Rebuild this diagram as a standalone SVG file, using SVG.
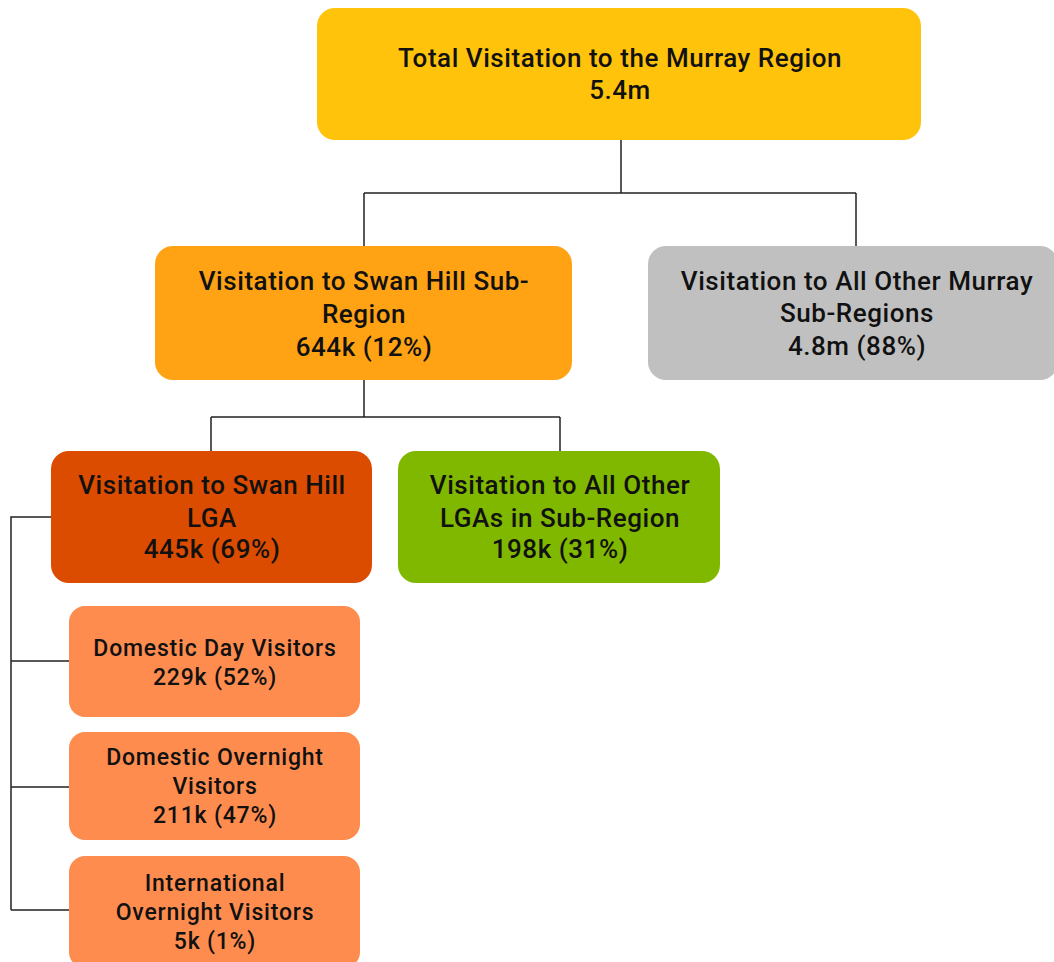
<svg xmlns="http://www.w3.org/2000/svg" width="1054" height="962" viewBox="0 0 1054 962">
<style>
.t{font-family:Roboto,"Liberation Sans",sans-serif;font-weight:500;fill:#111;text-anchor:middle;dominant-baseline:central}
.b{font-size:26px;letter-spacing:0.55px}
.s{font-size:23px;letter-spacing:0.8px}
.c{fill:none;stroke:#222;stroke-width:1.5}
</style>
<rect width="1054" height="962" fill="#fff"/>
<g id="connectors">
<path class="c" d="M621 140V193M364 193H856M364 193V246M856 193V246"/>
<path class="c" d="M364 380V417M211 417H560M211 417V451M560 417V451"/>
<path class="c" d="M51 517H11V910M11 661H69M11 787H69M11 910H69"/>
</g>
<g id="n-total">
<rect x="317" y="8" width="604" height="132" rx="18" fill="#FFC30B"/>
<text class="t b" x="620" y="58">Total Visitation to the Murray Region</text>
<text class="t b" x="620" y="90">5.4m</text>
</g>
<g id="n-swanhill-sub">
<rect x="155" y="246" width="417" height="134" rx="18" fill="#FFA214"/>
<text class="t b" x="364" y="281">Visitation to Swan Hill Sub-</text>
<text class="t b" x="364" y="314">Region</text>
<text class="t b" x="364" y="347">644k (12%)</text>
</g>
<g id="n-other-sub">
<rect x="648" y="246" width="410" height="134" rx="18" fill="#C0C0C0"/>
<text class="t b" x="857" y="281">Visitation to All Other Murray</text>
<text class="t b" x="857" y="313">Sub-Regions</text>
<text class="t b" x="857" y="346">4.8m (88%)</text>
</g>
<g id="n-swanhill-lga">
<rect x="51" y="451" width="321" height="132" rx="18" fill="#DC4C00"/>
<text class="t b" x="212" y="485">Visitation to Swan Hill</text>
<text class="t b" x="212" y="518">LGA</text>
<text class="t b" x="212" y="549">445k (69%)</text>
</g>
<g id="n-other-lga">
<rect x="398" y="451" width="322" height="132" rx="18" fill="#80B800"/>
<text class="t b" x="560" y="485">Visitation to All Other</text>
<text class="t b" x="560" y="518">LGAs in Sub-Region</text>
<text class="t b" x="560" y="549">198k (31%)</text>
</g>
<g id="n-day">
<rect x="69" y="606" width="291" height="111" rx="16" fill="#FF8C4F"/>
<text class="t s" x="215" y="648">Domestic Day Visitors</text>
<text class="t s" x="215" y="677">229k (52%)</text>
</g>
<g id="n-overnight">
<rect x="69" y="732" width="291" height="108" rx="16" fill="#FF8C4F"/>
<text class="t s" x="215" y="757">Domestic Overnight</text>
<text class="t s" x="215" y="786">Visitors</text>
<text class="t s" x="215" y="815">211k (47%)</text>
</g>
<g id="n-international">
<rect x="69" y="856" width="291" height="112" rx="16" fill="#FF8C4F"/>
<text class="t s" x="215" y="883">International</text>
<text class="t s" x="215" y="912">Overnight Visitors</text>
<text class="t s" x="215" y="941">5k (1%)</text>
</g>
</svg>
